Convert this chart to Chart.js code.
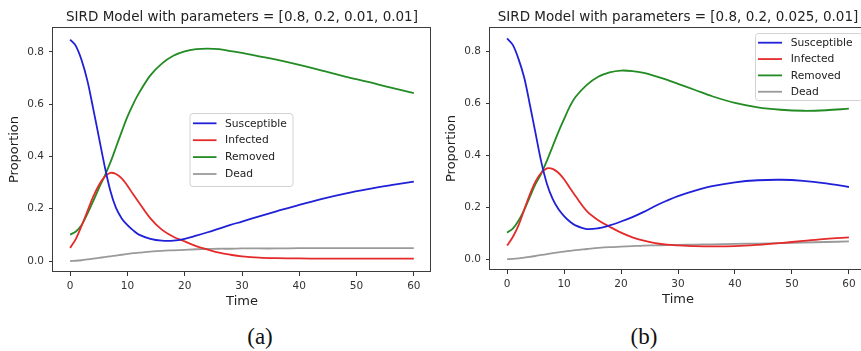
<!DOCTYPE html>
<html>
<head>
<meta charset="utf-8">
<script src="https://cdn.jsdelivr.net/npm/chart.js@4.4.1/dist/chart.umd.min.js"></script>
<style>
  html, body { margin: 0; padding: 0; background: #fff; }
  #wrap { position: relative; width: 861px; height: 351px; overflow: hidden; background: #fff; }
  canvas { position: absolute; top: 0; }
  #chartA { left: 0; }
  #chartB { left: 437px; }
  .cap {
    position: absolute; top: 337px;
    font-family: "Liberation Serif", "DejaVu Serif", serif;
    font-size: 23px; color: #111; white-space: nowrap;
    transform: translate(-50%, -50%);
  }
</style>
</head>
<body>
<div id="wrap">
  <canvas id="chartA" width="440" height="320"></canvas>
  <canvas id="chartB" width="440" height="320"></canvas>
  <div class="cap" style="left:260px">(a)</div>
  <div class="cap" style="left:644px">(b)</div>
</div>
<script>
// Sample times (days)
const time = [0, 1, 2, 3, 4, 5, 6, 7, 8, 9, 10, 11, 12, 14, 16, 18, 20, 22, 24, 26, 28, 30, 33, 36, 40, 44, 48, 52, 56, 60];

// Panel (a): parameters [0.8, 0.2, 0.01, 0.01]
const susceptibleA = [0.847, 0.822, 0.768, 0.690, 0.585, 0.475, 0.365, 0.270, 0.203, 0.163, 0.137, 0.117, 0.101, 0.085, 0.078, 0.078, 0.085, 0.097, 0.110, 0.124, 0.138, 0.151, 0.171, 0.190, 0.215, 0.238, 0.258, 0.275, 0.290, 0.304];
const infectedA    = [0.050, 0.085, 0.135, 0.190, 0.245, 0.290, 0.322, 0.337, 0.333, 0.316, 0.288, 0.255, 0.224, 0.163, 0.120, 0.093, 0.075, 0.057, 0.044, 0.032, 0.024, 0.018, 0.013, 0.011, 0.010, 0.009, 0.009, 0.009, 0.009, 0.009];
const removedA     = [0.101, 0.113, 0.138, 0.180, 0.228, 0.278, 0.324, 0.376, 0.435, 0.495, 0.552, 0.600, 0.642, 0.710, 0.755, 0.785, 0.802, 0.810, 0.812, 0.810, 0.803, 0.796, 0.783, 0.770, 0.750, 0.728, 0.705, 0.685, 0.663, 0.642];
const deadA        = [0.000, 0.001, 0.003, 0.006, 0.009, 0.012, 0.015, 0.018, 0.021, 0.024, 0.027, 0.030, 0.032, 0.036, 0.039, 0.041, 0.043, 0.045, 0.046, 0.047, 0.047, 0.048, 0.048, 0.048, 0.049, 0.049, 0.049, 0.049, 0.049, 0.049];

// Panel (b): parameters [0.8, 0.2, 0.025, 0.01]
const susceptibleB = [0.851, 0.826, 0.772, 0.700, 0.595, 0.485, 0.375, 0.290, 0.232, 0.193, 0.166, 0.145, 0.130, 0.116, 0.119, 0.130, 0.145, 0.162, 0.182, 0.205, 0.225, 0.243, 0.264, 0.281, 0.296, 0.304, 0.306, 0.302, 0.292, 0.278];
const infectedB    = [0.052, 0.085, 0.130, 0.190, 0.250, 0.300, 0.333, 0.350, 0.348, 0.333, 0.308, 0.275, 0.243, 0.185, 0.150, 0.125, 0.102, 0.084, 0.071, 0.062, 0.056, 0.053, 0.050, 0.049, 0.050, 0.055, 0.062, 0.070, 0.078, 0.084];
const removedB     = [0.102, 0.118, 0.148, 0.190, 0.240, 0.290, 0.330, 0.380, 0.435, 0.490, 0.540, 0.588, 0.625, 0.672, 0.703, 0.720, 0.727, 0.725, 0.718, 0.706, 0.692, 0.676, 0.652, 0.628, 0.602, 0.585, 0.576, 0.572, 0.574, 0.580];
const deadB        = [0.000, 0.001, 0.003, 0.006, 0.009, 0.012, 0.016, 0.019, 0.023, 0.026, 0.029, 0.032, 0.035, 0.039, 0.043, 0.046, 0.048, 0.050, 0.052, 0.053, 0.054, 0.055, 0.056, 0.057, 0.059, 0.060, 0.062, 0.064, 0.066, 0.068];

const seriesNames = ['Susceptible', 'Infected', 'Removed', 'Dead'];
const xTicks = [0, 10, 20, 30, 40, 50, 60];
const yTicks = [0, 0.2, 0.4, 0.6, 0.8];
const titleA = 'SIRD Model with parameters = [0.8, 0.2, 0.01, 0.01]';
const titleB = 'SIRD Model with parameters = [0.8, 0.2, 0.025, 0.01]';

const lineColors = ['#2020d8', '#e52a2a', '#238b23', '#9a9a9a'];
const FONT = '"DejaVu Sans", "Liberation Sans", sans-serif';
Chart.defaults.font.family = FONT;

// Axes frame on all four sides plus an in-axes legend box
const frameLegend = {
  id: 'frameLegend',
  afterLayout(chart) {
    // centre the title over the plotting area
    const tb = chart.titleBlock, a = chart.chartArea;
    if (tb) { tb.left = a.left; tb.right = a.right; tb.width = a.right - a.left; }
  },
  afterDraw(chart, args, o) {
    const { ctx, chartArea: a } = chart;
    ctx.save();
    ctx.strokeStyle = '#3c3c3c';
    ctx.lineWidth = 1;
    ctx.strokeRect(Math.round(a.left) - 0.5, Math.round(a.top) + 0.5,
                   Math.round(a.right) - Math.round(a.left), Math.round(a.bottom) - Math.round(a.top) - 1);

    const L = o.box;
    ctx.fillStyle = 'rgba(255,255,255,0.85)';
    ctx.strokeStyle = '#d2d2d2';
    ctx.beginPath();
    ctx.roundRect(L.x + 0.5, L.y + 0.5, L.w, L.h, 3);
    ctx.fill();
    ctx.stroke();
    ctx.font = '10.7px ' + FONT;
    ctx.textBaseline = 'middle';
    ctx.textAlign = 'left';
    chart.data.datasets.forEach((ds, i) => {
      const y = L.row0 + i * L.step;
      ctx.strokeStyle = ds.borderColor;
      ctx.lineWidth = ds.borderWidth;
      ctx.beginPath();
      ctx.moveTo(L.h0, y);
      ctx.lineTo(L.h1, y);
      ctx.stroke();
      ctx.fillStyle = '#222';
      ctx.fillText(ds.label, L.tx, y + 0.5);
    });
    ctx.restore();
  }
};

function makeChart(id, title, series, lay) {
  const datasets = series.map((vals, i) => ({
    label: seriesNames[i],
    data: time.map((t, k) => ({ x: t, y: vals[k] })),
    borderColor: lineColors[i],
    backgroundColor: lineColors[i],
    borderWidth: 1.8,
    pointRadius: 0,
    fill: false,
    tension: 0.35
  }));
  return new Chart(document.getElementById(id), {
    type: 'line',
    data: { datasets },
    plugins: [frameLegend],
    options: {
      responsive: false,
      animation: false,
      devicePixelRatio: 1,
      layout: { padding: { left: 0, right: lay.padRight, top: 0, bottom: 0 } },
      plugins: {
        legend: { display: false },
        tooltip: { enabled: false },
        title: {
          display: true, text: title, color: '#222',
          font: { family: FONT, size: 13.5, weight: 'normal' },
          padding: { top: lay.titleTop, bottom: 27 - 16.2 - lay.titleTop }
        },
        frameLegend: { box: lay.legend }
      },
      scales: {
        x: {
          type: 'linear', min: -3, max: 63,
          afterBuildTicks: s => { s.ticks = xTicks.map(v => ({ value: v })); },
          afterFit: s => { s.height = lay.xHeight; },
          grid: { drawOnChartArea: false, drawTicks: true, tickLength: 4, tickColor: '#333', tickWidth: 1 },
          border: { display: false },
          ticks: { color: '#333', font: { size: 10.5 }, padding: 3.5, maxRotation: 0, callback: v => String(v) },
          title: { display: true, text: 'Time', color: '#222', font: { size: 13 }, padding: { top: 0, bottom: lay.xTitlePad } }
        },
        y: {
          type: 'linear', min: -0.042, max: 0.895,
          afterBuildTicks: s => { s.ticks = yTicks.map(v => ({ value: v })); },
          afterFit: s => { s.width = 53; },
          grid: { drawOnChartArea: false, drawTicks: true, tickLength: 4, tickColor: '#333', tickWidth: 1 },
          border: { display: false },
          ticks: { color: '#333', font: { size: 10.5 }, padding: 5, callback: v => v.toFixed(1) },
          title: { display: true, text: 'Proportion', color: '#222', font: { size: 13 }, padding: { top: 7.2, bottom: 0 } }
        }
      }
    }
  });
}

makeChart('chartA', titleA, [susceptibleA, infectedA, removedA, deadA], {
  padRight: 9, xHeight: 48, xTitlePad: 10.5, titleTop: 9,
  legend: { x: 189.5, y: 113, w: 103, h: 73, row0: 123.3, step: 16.9, h0: 193, h1: 216.5, tx: 225 }
});
makeChart('chartB', titleB, [susceptibleB, infectedB, removedB, deadB], {
  padRight: 11, xHeight: 50, xTitlePad: 12.2, titleTop: 9.4,
  legend: { x: 318, y: 33, w: 107, h: 67, row0: 42.7, step: 16.35, h0: 321, h1: 345, tx: 353.7 }
});
</script>
</body>
</html>
